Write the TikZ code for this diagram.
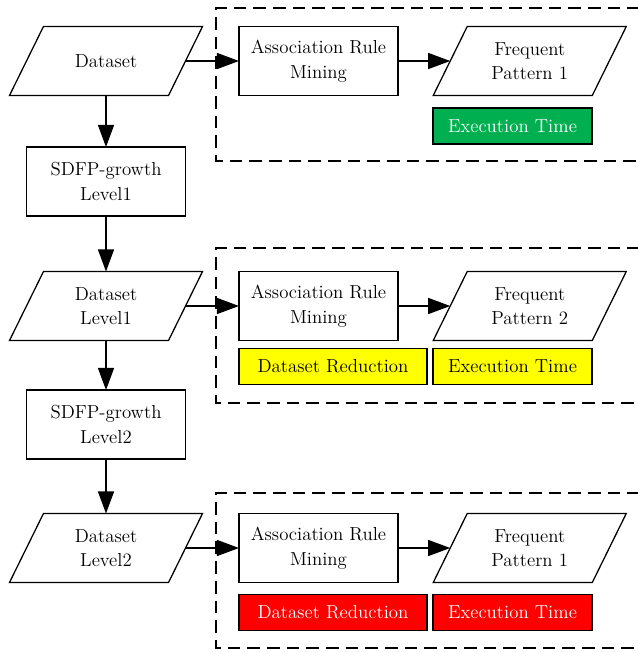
\documentclass[tikz,border=0pt]{standalone}
\usetikzlibrary{arrows.meta}
\definecolor{timegreen}{RGB}{0,176,80}
\definecolor{markyellow}{RGB}{255,255,0}
\definecolor{markred}{RGB}{255,0,0}
% parallelogram round a plain node
\newcommand\ioshape[1]{\draw[line width=0.9pt] ([xshift=0.425cm]#1.north west) -- ([xshift=0.425cm]#1.north east) -- ([xshift=-0.425cm]#1.south east) -- ([xshift=-0.425cm]#1.south west) -- cycle;}
\begin{document}
\begin{tikzpicture}[x=0.025cm,y=-0.025cm,
    every node/.style={font=\fontsize{13.4}{17.5}\selectfont, align=center, outer sep=0pt, line width=0.9pt},
    proc/.style={draw, minimum width=3.975cm, minimum height=1.725cm, inner sep=1pt},
    io/.style={minimum width=3.975cm, minimum height=1.725cm, inner sep=1pt},
    tag/.style={draw, minimum height=0.9cm, inner sep=1pt},
    flow/.style={line width=0.9pt, -{Triangle[length=0.55cm,width=0.4cm]}},
    group/.style={line width=0.9pt, dash pattern=on 9pt off 5pt}]
    \useasboundingbox (0,0) rectangle (638,652);
    % dashed groups
    \draw[group] (640,8) -- (216,8) -- (216,161) -- (640,161);
    \draw[group] (640,248) -- (216,248) -- (216,403) -- (640,403);
    \draw[group] (640,493) -- (216,493) -- (216,648) -- (640,648);
    % main column
    \node[io] (data0) at (106,61) {Dataset};
    \node[proc] (sdfp1) at (106,181.5) {SDFP-growth\\Level1};
    \node[io] (data1) at (106,306) {Dataset\\Level1};
    \node[proc] (sdfp2) at (106,424.5) {SDFP-growth\\Level2};
    \node[io] (data2) at (106,548) {Dataset\\Level2};
    \ioshape{data0} \ioshape{data1} \ioshape{data2}
    % mining rows
    \node[proc] (arm0) at (318.5,61) {Association Rule\\Mining};
    \node[io] (fp0) at (529.75,61) {Frequent\\Pattern 1};
    \node[proc] (arm1) at (318.5,306) {Association Rule\\Mining};
    \node[io] (fp1) at (529.75,306) {Frequent\\Pattern 2};
    \node[proc] (arm2) at (318.5,548) {Association Rule\\Mining};
    \node[io] (fp2) at (529.75,548) {Frequent\\Pattern 1};
    \ioshape{fp0} \ioshape{fp1} \ioshape{fp2}
    % results
    \node[tag, fill=timegreen, text=white, minimum width=3.975cm] (time0) at (512.5,126) {Execution Time};
    \node[tag, fill=markyellow, minimum width=4.7cm] (red1) at (333,366.5) {Dataset Reduction};
    \node[tag, fill=markyellow, minimum width=3.975cm] (time1) at (512.5,366.5) {Execution Time};
    \node[tag, fill=markred, text=white, minimum width=4.7cm] (red2) at (333,612.5) {Dataset Reduction};
    \node[tag, fill=markred, text=white, minimum width=3.975cm] (time2) at (512.5,612.5) {Execution Time};
    % arrows
    \draw[flow] (data0) -- (sdfp1);
    \draw[flow] (sdfp1) -- (data1);
    \draw[flow] (data1) -- (sdfp2);
    \draw[flow] (sdfp2) -- (data2);
    \draw[flow] (data0.east) -- (arm0.west);
    \draw[flow] (data1.east) -- (arm1.west);
    \draw[flow] (data2.east) -- (arm2.west);
    \draw[flow] (arm0.east) -- (fp0.west);
    \draw[flow] (arm1.east) -- (fp1.west);
    \draw[flow] (arm2.east) -- (fp2.west);
\end{tikzpicture}
\end{document}
